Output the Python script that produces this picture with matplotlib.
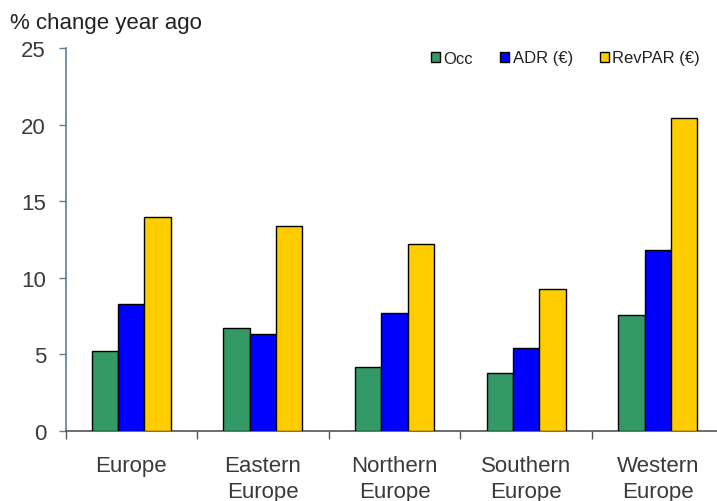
"""
Hotel performance by European region: % change year ago.
"""

import matplotlib

matplotlib.use("Agg")
import matplotlib.pyplot as plt
import numpy as np

regions = ["Europe", "Eastern\nEurope", "Northern\nEurope", "Southern\nEurope", "Western\nEurope"]
series_names = ["Occ", "ADR (€)", "RevPAR (€)"]
occ = [5.25, 6.7, 4.2, 3.8, 7.6]
adr = [8.3, 6.3, 7.67, 5.4, 11.8]
revpar = [14.0, 13.4, 12.2, 9.3, 20.4]
y_ticks = [0, 5, 10, 15, 20, 25]

colors = ["#339966", "#0000FF", "#FFCC00"]

plt.rcParams["font.family"] = ["Liberation Sans", "DejaVu Sans"]

W, H = 717, 502
fig = plt.figure(figsize=(W / 100, H / 100), dpi=100)
ax = fig.add_axes([65.5 / W, (H - 432) / H, (W - 65.5) / W, (432 - 49) / H])

x = np.arange(len(regions))
width = 0.2
for k, (vals, name) in enumerate(zip([occ, adr, revpar], series_names)):
    ax.bar(x + (k - 1) * width, vals, width, color=colors[k], edgecolor="black",
           linewidth=1.0, label=name, zorder=3)

ax.set_xlim(-0.5, -0.5 + (W - 65.5) / 131.6)
ax.set_ylim(0, 25)
ax.set_yticks(y_ticks)

for side in ["top", "right"]:
    ax.spines[side].set_visible(False)
ax.spines["left"].set_color("#5b7f99")
ax.spines["left"].set_linewidth(1.2)
ax.spines["bottom"].set_color("#555555")
ax.spines["bottom"].set_linewidth(1.2)

ax.tick_params(axis="y", direction="out", length=5, width=1.0, color="#5b7f99",
               labelsize=16, labelcolor="#3a3a3a", pad=9)

# labels at group centers, tick marks at group boundaries
ax.set_xticks(x)
ax.set_xticklabels(regions, linespacing=1.35)
ax.set_xticks(np.arange(len(regions)) - 0.5, minor=True)
ax.tick_params(axis="x", which="major", length=0, labelsize=16, labelcolor="#3a3a3a", pad=17)
ax.tick_params(axis="x", which="minor", direction="out", length=6, width=1.0, color="#555555")

fig.text(10 / W, 1 - 23 / H, "% change year ago", fontsize=16, color="#222222", va="center")

fig.legend(loc="center left", bbox_to_anchor=(431 / W, 1 - 59 / H), ncol=3, frameon=False,
           fontsize=12, handlelength=0.56, handleheight=0.56, handletextpad=0.2,
           columnspacing=1.6, borderpad=0, borderaxespad=0, labelcolor="#222222")

fig.savefig("out.png", dpi=100)
